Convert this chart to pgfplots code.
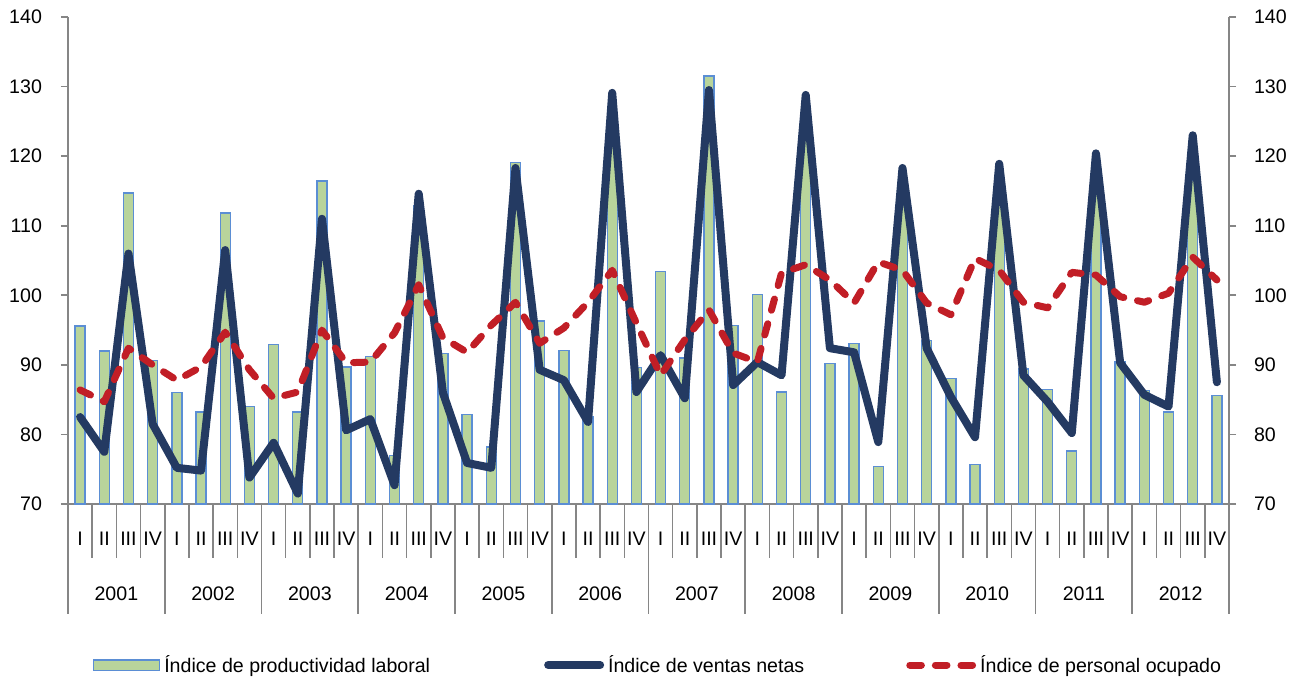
\documentclass[border=0pt]{standalone}
\usepackage{fontspec}
\setmainfont{Liberation Sans}
\usepackage{pgfplots}
\usepackage{pgfplotstable}
\pgfplotsset{compat=1.18}

\definecolor{navy}{RGB}{36,58,98}
\definecolor{rojo}{RGB}{193,30,38}
\definecolor{verde}{RGB}{184,212,155}
\definecolor{borde}{RGB}{91,142,212}
\definecolor{eje}{RGB}{134,134,134}

\pgfplotsset{
    barleg/.style={legend image code/.code={\draw[##1] (0pt,-2.6pt) rectangle (33pt,2.6pt);}},
    navyleg/.style={legend image code/.code={\draw[##1] (2pt,0pt) -- (28pt,0pt);}},
    rojoleg/.style={legend image code/.code={\draw[##1] (1.75pt,0pt) -- (33.2pt,0pt);}},
}

% q = trimestre (0 = 2001 I), prod = productividad, ventas, personal
\pgfplotstableread{
q prod ventas personal
0 95.6 82.5 86.4
1 92.0 77.5 84.7
2 114.7 106.0 92.4
3 90.6 81.5 90.0
4 86.0 75.2 87.8
5 83.2 74.8 89.7
6 111.8 106.5 94.7
7 84.0 73.8 89.3
8 92.9 78.8 85.2
9 83.2 71.5 86.1
10 116.4 111.0 95.0
11 89.7 80.6 90.3
12 91.2 82.2 90.4
13 77.0 72.7 94.6
14 112.9 114.6 101.5
15 91.6 86.0 93.9
16 82.9 75.9 91.8
17 78.2 75.2 95.7
18 119.1 118.3 99.0
19 96.3 89.3 93.1
20 92.1 87.8 95.3
21 82.6 81.8 99.0
22 124.6 129.1 103.6
23 89.6 86.1 96.0
24 103.4 91.4 88.5
25 91.0 85.2 93.6
26 131.5 129.5 97.9
27 95.7 87.1 91.7
28 100.1 90.4 90.4
29 86.1 88.5 103.2
30 123.4 128.8 104.4
31 90.2 92.4 102.2
32 93.1 91.8 98.9
33 75.4 78.9 104.8
34 114.2 118.3 103.6
35 93.5 92.4 98.9
36 88.0 85.4 97.2
37 75.7 79.6 105.3
38 114.8 118.9 103.6
39 89.4 88.5 99.0
40 86.5 84.7 98.2
41 77.6 80.2 103.3
42 117.0 120.4 102.9
43 90.5 90.3 99.8
44 86.3 85.7 99.0
45 83.2 84.0 100.3
46 116.6 123.0 105.5
47 85.6 87.5 102.2
}\datos

\newcommand{\fnt}{\fontsize{9.8}{11}\selectfont}

\begin{document}
\begin{tikzpicture}
\begin{axis}[
    name=main,
    width=580.5pt, height=243.5pt, scale only axis,
    xmin=-0.5, xmax=47.5, ymin=70, ymax=140,
    axis x line*=bottom, axis y line*=left,
    axis line style={-, draw=eje, line width=1pt},
    xtick=\empty,
    ytick={70,80,...,140},
    tick style={draw=eje, line width=0.8pt},
    major tick length=3.5pt,
    tick align=outside,
    yticklabel style={xshift=-6pt},
    font=\fnt,
    /pgf/number format/assume math mode=true,
    legend columns=3,
    legend cell align=left,
    legend style={at={(0.509,-0.3306)}, anchor=center, draw=none, fill=none,
        font=\fnt,
        /tikz/column 2/.style={column sep=55pt},
        /tikz/column 4/.style={column sep=49pt}},
]
\addplot[ybar, bar width=5pt, fill=verde, draw=borde, line width=0.7pt, barleg]
    table[x=q, y=prod]{\datos};
\addlegendentry{Índice de productividad laboral}
\addplot[navy, line width=4pt, line join=round, line cap=round, mark=none, navyleg]
    table[x=q, y=ventas]{\datos};
\addlegendentry{Índice de ventas netas}
\addplot[rojo, line width=3.5pt, dash pattern=on 5.8pt off 7pt, line cap=round,
    line join=round, mark=none, rojoleg]
    table[x=q, y=personal]{\datos};
\addlegendentry{Índice de personal ocupado}
\end{axis}

\begin{axis}[
    width=580.5pt, height=243.5pt, scale only axis,
    xmin=-0.5, xmax=47.5, ymin=70, ymax=140,
    axis x line=none, axis y line*=right,
    axis line style={-, draw=eje, line width=1pt},
    ytick={70,80,...,140},
    tick style={draw=eje, line width=0.8pt},
    major tick length=3.5pt,
    tick align=outside,
    yticklabel style={xshift=5.5pt},
    font=\fnt,
    /pgf/number format/assume math mode=true,
    clip=false,
]
\addplot[draw=none, forget plot] coordinates {(0,70)};
% separadores de trimestres y de años
\pgfplotsinvokeforeach{-0.5,0.5,...,47.5}{
    \draw[eje, line width=0.8pt] (axis cs:#1,70) -- ++(0pt,-27pt);
}
\pgfplotsinvokeforeach{-0.5,3.5,...,47.5}{
    \draw[eje, line width=0.8pt] (axis cs:#1,70) -- ++(0pt,-55pt);
}
% trimestres
\pgfplotsinvokeforeach{0,4,...,44}{\node[font=\fnt] at (axis cs:#1,70) [yshift=-17.5pt] {I};}
\pgfplotsinvokeforeach{1,5,...,45}{\node[font=\fnt] at (axis cs:#1,70) [yshift=-17.5pt] {II};}
\pgfplotsinvokeforeach{2,6,...,46}{\node[font=\fnt] at (axis cs:#1,70) [yshift=-17.5pt] {III};}
\pgfplotsinvokeforeach{3,7,...,47}{\node[font=\fnt] at (axis cs:#1,70) [yshift=-17.5pt] {IV};}
% años
\node[font=\fnt] at (axis cs:1.5,70) [yshift=-45pt] {2001};
\node[font=\fnt] at (axis cs:5.5,70) [yshift=-45pt] {2002};
\node[font=\fnt] at (axis cs:9.5,70) [yshift=-45pt] {2003};
\node[font=\fnt] at (axis cs:13.5,70) [yshift=-45pt] {2004};
\node[font=\fnt] at (axis cs:17.5,70) [yshift=-45pt] {2005};
\node[font=\fnt] at (axis cs:21.5,70) [yshift=-45pt] {2006};
\node[font=\fnt] at (axis cs:25.5,70) [yshift=-45pt] {2007};
\node[font=\fnt] at (axis cs:29.5,70) [yshift=-45pt] {2008};
\node[font=\fnt] at (axis cs:33.5,70) [yshift=-45pt] {2009};
\node[font=\fnt] at (axis cs:37.5,70) [yshift=-45pt] {2010};
\node[font=\fnt] at (axis cs:41.5,70) [yshift=-45pt] {2011};
\node[font=\fnt] at (axis cs:45.5,70) [yshift=-45pt] {2012};
\end{axis}

\pgfresetboundingbox
\path[use as bounding box] ([xshift=-34pt,yshift=-88.5pt]main.south west)
    rectangle ([xshift=35pt,yshift=8.5pt]main.north east);
\end{tikzpicture}
\end{document}
